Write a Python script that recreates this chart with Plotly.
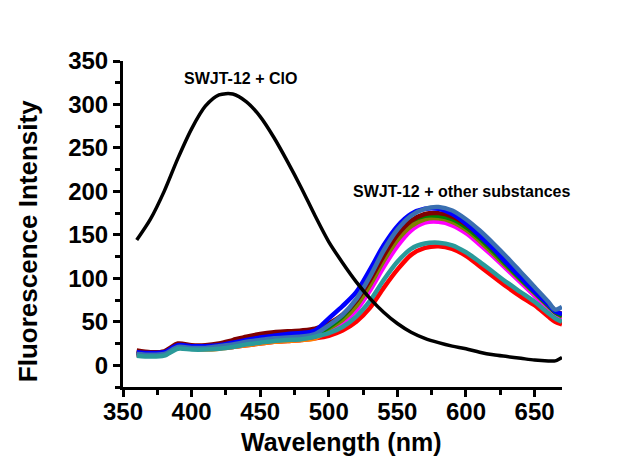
import plotly.graph_objects as go

wavelength = [360, 370, 380, 390, 400, 410, 420, 430, 440, 450, 460, 470, 480, 490,
              500, 510, 520, 530, 540, 550, 560, 570, 580, 590, 600, 610, 620, 630,
              640, 650, 660, 665, 670]

clo = [144, 168, 200, 238, 272, 298, 311, 312, 303, 286, 262, 234, 204, 172,
       142, 118, 96, 77, 61, 48, 38, 31, 26, 22, 19, 15, 12, 10, 8, 6, 5, 5, 9]

red = [12, 11, 12, 20, 19, 19, 20, 21, 23, 25, 27, 28, 29, 31,
       34, 40, 50, 66, 89, 110, 127, 135, 137, 134, 126, 114, 102, 90, 79, 69, 56, 50, 47]
orange = [13, 12, 13, 20, 19, 18, 19, 21, 23, 25, 27, 28, 29, 31,
          40, 50, 66, 90, 118, 142, 158, 166, 167, 163, 154, 141, 126, 111, 96, 81, 67, 60, 55]
magenta = [13, 12, 13, 21, 20, 20, 21, 23, 25, 27, 29, 30, 31, 33,
           40, 49, 63, 86, 113, 137, 155, 164, 165, 161, 152, 139, 125, 110, 95, 80, 66, 59, 54]
olive = [14, 13, 14, 22, 21, 20, 21, 23, 25, 27, 29, 30, 31, 33,
         42, 52, 68, 92, 120, 144, 160, 168, 169, 165, 156, 143, 128, 113, 98, 83, 68, 61, 56]
green = [14, 13, 14, 22, 21, 21, 22, 24, 27, 29, 31, 32, 33, 35,
         44, 56, 74, 100, 128, 151, 166, 172, 172, 168, 159, 146, 131, 115, 99, 84, 69, 61, 57]
maroon = [17, 15, 16, 25, 23, 23, 25, 29, 33, 36, 38, 39, 40, 42,
          48, 58, 74, 98, 126, 150, 166, 174, 175, 171, 162, 149, 134, 118, 102, 86, 71, 63, 59]
blue = [15, 14, 15, 23, 22, 22, 23, 26, 29, 32, 34, 36, 37, 40,
        54, 68, 84, 110, 138, 160, 174, 180, 180, 174, 163, 149, 134, 117, 101, 85, 70, 62, 59]
steelblue = [13, 12, 13, 21, 20, 20, 22, 24, 27, 29, 31, 32, 33, 36,
             46, 58, 76, 102, 132, 156, 172, 180, 182, 178, 168, 155, 140, 124, 107, 90, 73, 64, 67]
teal = [11, 10, 11, 19, 18, 18, 19, 21, 24, 26, 28, 29, 30, 33,
        37, 44, 56, 74, 98, 119, 134, 140, 141, 138, 130, 119, 107, 95, 84, 73, 60, 54, 50]

others = [
    (red, "#FF0000"),
    (orange, "#FF8000"),
    (magenta, "#FF00FF"),
    (olive, "#808000"),
    (green, "#008000"),
    (maroon, "#800000"),
    (blue, "#0000FF"),
    (steelblue, "#3A6FB0"),
    (teal, "#2A9A9A"),
]

FONT = "Arial, 'Liberation Sans', sans-serif"

fig = go.Figure()
for ys, col in others:
    fig.add_trace(go.Scatter(x=wavelength, y=ys, mode="lines",
                             line=dict(color=col, width=4.5, shape="spline", smoothing=0.8),
                             showlegend=False, hoverinfo="skip"))
fig.add_trace(go.Scatter(x=wavelength, y=clo, mode="lines",
                         line=dict(color="#000000", width=3.5, shape="spline", smoothing=0.8),
                         showlegend=False, hoverinfo="skip"))

axis_common = dict(
    showline=True, linecolor="black", linewidth=3, mirror=False,
    ticks="outside", ticklen=7, tickwidth=3, tickcolor="black",
    showgrid=False, zeroline=False,
    tickfont=dict(family=FONT, size=24, color="black", weight="bold"),
)

fig.update_xaxes(range=[350, 670], tick0=350, dtick=50, ticklabelstandoff=-6,
                 minor=dict(ticks="outside", ticklen=5, tickwidth=3, tickcolor="black", dtick=25),
                 **axis_common)
fig.update_yaxes(range=[-25, 350], tick0=0, dtick=50,
                 minor=dict(ticks="outside", ticklen=5, tickwidth=3, tickcolor="black", dtick=25),
                 **axis_common)

fig.add_annotation(x=436, y=330, xref="x", yref="y", text="SWJT-12 + ClO", showarrow=False,
                   font=dict(family=FONT, size=16, color="black", weight="bold"))
fig.add_annotation(x=597, y=200, xref="x", yref="y", text="SWJT-12 + other substances",
                   showarrow=False,
                   font=dict(family=FONT, size=16, color="black", weight="bold"))
fig.add_annotation(x=0.497, y=-0.17, xref="paper", yref="paper", text="Wavelength (nm)",
                   showarrow=False, xanchor="center", yanchor="middle",
                   font=dict(family=FONT, size=25, color="black", weight="bold"))
fig.add_annotation(x=-0.216, y=0.448, xref="paper", yref="paper", text="Fluorescence Intensity",
                   showarrow=False, xanchor="center", yanchor="middle", textangle=-90,
                   font=dict(family=FONT, size=26, color="black", weight="bold"))

fig.update_layout(
    width=635, height=457,
    margin=dict(l=123, r=73, t=61, b=70),
    paper_bgcolor="white", plot_bgcolor="white",
    font=dict(family=FONT, color="black"),
)

fig.write_html("out.html")
